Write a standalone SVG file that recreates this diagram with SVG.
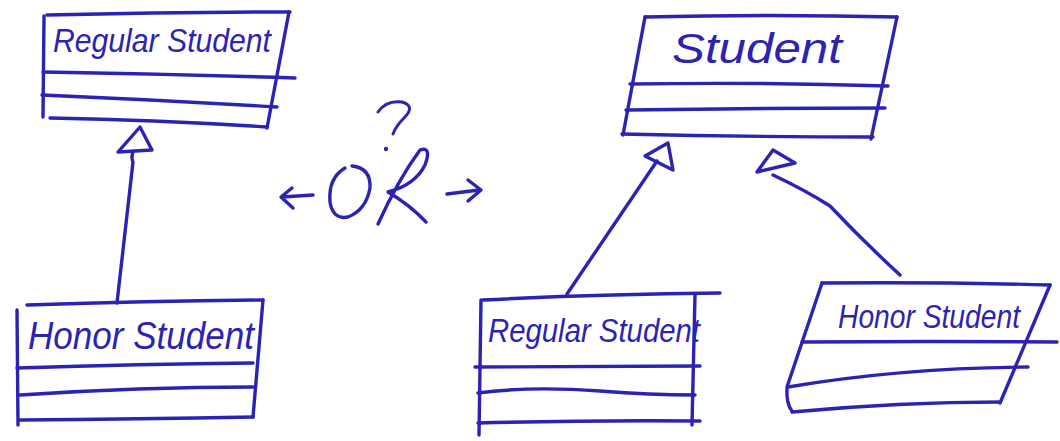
<svg xmlns="http://www.w3.org/2000/svg" width="1060" height="441" viewBox="0 0 1060 441">
  <defs>
    <style>
      .ink { fill: none; stroke: #2c22b4; stroke-width: 3.4; stroke-linecap: round; stroke-linejoin: round; }
      .thin { fill: none; stroke: #2c22b4; stroke-width: 3; stroke-linecap: round; stroke-linejoin: round; }
      .label { fill: #2c22b4; font-family: "Liberation Sans", "DejaVu Sans", sans-serif; font-style: italic; }
    </style>
  </defs>
  <rect width="1060" height="441" fill="#ffffff"/>

  <!-- class: Regular Student (left, parent) -->
  <g id="left-regular-student">
    <path class="ink" d="M47 15 Q170 12 290 12"/>
    <path class="ink" d="M44 16 L43 117"/>
    <path class="ink" d="M289 12 L267 128"/>
    <path class="ink" d="M43 72 Q170 74 295 78"/>
    <path class="ink" d="M42 95 Q160 100 277 107"/>
    <path class="ink" d="M50 118 Q160 120 267 127"/>
    <text class="label" x="53" y="52" font-size="33" textLength="218" lengthAdjust="spacingAndGlyphs">Regular Student</text>
  </g>

  <!-- class: Honor Student (left, child) -->
  <g id="left-honor-student">
    <path class="ink" d="M27 305 Q150 301 263 300"/>
    <path class="ink" d="M17 310 L18 425"/>
    <path class="ink" d="M263 300 L253 417"/>
    <path class="ink" d="M17 368 Q140 364 253 363"/>
    <path class="ink" d="M20 395 Q140 387 253 387"/>
    <path class="ink" d="M20 420 Q140 419 253 417"/>
    <text class="label" x="28" y="349" font-size="38" textLength="226" lengthAdjust="spacingAndGlyphs">Honor Student</text>
  </g>

  <!-- class: Student (right, parent) -->
  <g id="right-student">
    <path class="ink" d="M645 17 Q770 14 897 17"/>
    <path class="ink" d="M645 17 L623 135"/>
    <path class="ink" d="M897 17 L871 139"/>
    <path class="ink" d="M630 84 Q760 82 888 86"/>
    <path class="ink" d="M626 110 Q760 108 885 108"/>
    <path class="ink" d="M622 134 Q750 137 873 137"/>
    <text class="label" x="672" y="63" font-size="42" textLength="170" lengthAdjust="spacingAndGlyphs">Student</text>
  </g>

  <!-- class: Regular Student (right, child) -->
  <g id="right-regular-student">
    <path class="ink" d="M483 300 Q600 294 720 293"/>
    <path class="ink" d="M481 300 L479 435"/>
    <path class="ink" d="M695 295 L692 425"/>
    <path class="ink" d="M475 367 Q590 366 700 366"/>
    <path class="ink" d="M478 393 Q530 386 600 391 Q650 395 695 395"/>
    <path class="ink" d="M478 423 Q590 420 700 421"/>
    <text class="label" x="488" y="342" font-size="34" textLength="212" lengthAdjust="spacingAndGlyphs">Regular Student</text>
  </g>

  <!-- class: Honor Student (right, child) -->
  <g id="right-honor-student">
    <path class="ink" d="M822 283 Q940 282 1050 285"/>
    <path class="ink" d="M822 283 L787 387 Q786 404 792 411"/>
    <path class="ink" d="M1050 285 L1000 403"/>
    <path class="ink" d="M802 342 Q930 341 1057 342"/>
    <path class="ink" d="M788 387 Q900 368 1028 367"/>
    <path class="ink" d="M792 412 Q900 402 1000 402"/>
    <text class="label" x="838" y="328" font-size="34" textLength="182" lengthAdjust="spacingAndGlyphs">Honor Student</text>
  </g>

  <!-- "OR" alternative marker between the two designs -->
  <g id="or-marker">
    <path class="thin" d="M378 112 Q386 100 402 102 Q416 106 404 118 Q396 126 393 134"/>
    <circle cx="386" cy="149" r="2.2" fill="#2c22b4"/>
    <path class="ink" d="M345 168 Q328 178 330 202 Q333 220 348 217 Q366 210 370 188 Q371 168 352 166"/>
    <path class="ink" d="M378 224 Q398 180 420 150 Q432 146 425 165 Q415 185 388 192 Q410 205 426 222"/>
    <path class="ink" d="M282 197 L313 195 M292 188 L281 197 L293 208"/>
    <path class="ink" d="M447 194 L479 190 M468 180 L481 190 L468 201"/>
  </g>

  <!-- generalization connectors -->
  <g id="connectors">
    <path class="ink" d="M140 127 L118 152 L152 150 Z"/>
    <path class="ink" d="M133 152 Q131 158 133 162 L117 303"/>
    <path class="ink" d="M668 143 L645 156 L673 170 Z"/>
    <path class="ink" d="M657 161 L567 294"/>
    <path class="ink" d="M773 150 L757 172 L795 163 Z"/>
    <path class="ink" d="M773 175 Q805 190 830 206 Q862 240 900 275"/>
  </g>
</svg>
